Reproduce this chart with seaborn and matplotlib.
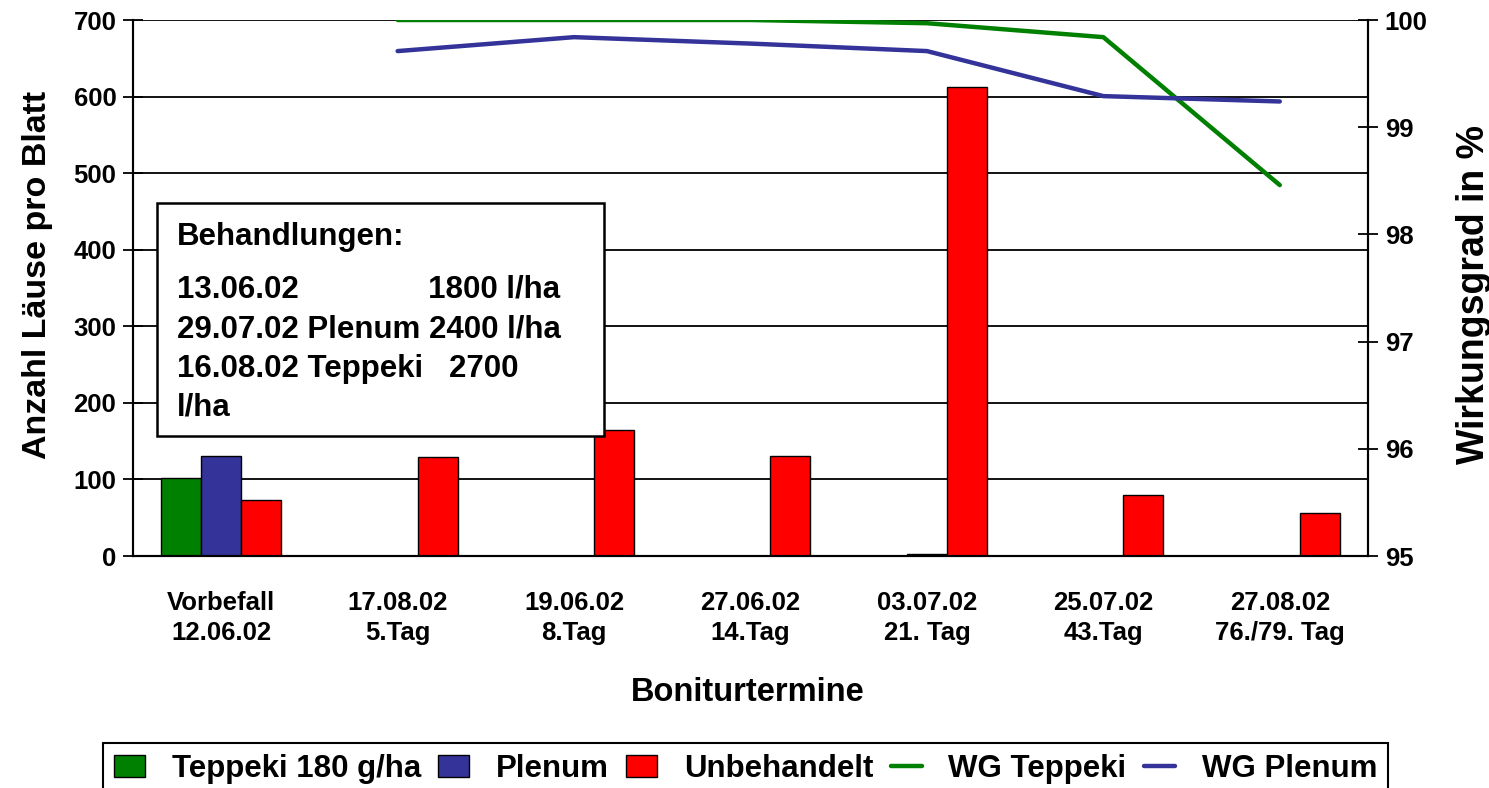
import seaborn as sns
import pandas as pd
import matplotlib.pyplot as plt
from matplotlib.patches import Rectangle

# Daten
termine = ['Vorbefall\n12.06.02', '17.08.02\n5.Tag', '19.06.02\n8.Tag',
           '27.06.02\n14.Tag', '03.07.02\n21. Tag', '25.07.02\n43.Tag',
           '27.08.02\n76./79. Tag']
teppeki = [102, 0, 0, 0, 0, 0, 0]
plenum = [131, 0, 0, 0, 2, 0, 0]
unbehandelt = [73, 129, 165, 131, 613, 80, 56]

# Wirkungsgrad ab dem 2. Termin
wg_termine = termine[1:]
wg_teppeki = [100.0, 100.0, 100.0, 99.97, 99.84, 98.46]
wg_plenum = [99.71, 99.84, 99.78, 99.71, 99.29, 99.24]

box_titel = 'Behandlungen:'
box_zeilen = ['13.06.02               1800 l/ha',
              '29.07.02 Plenum 2400 l/ha',
              '16.08.02 Teppeki   2700',
              'l/ha']

bar_namen = ['Teppeki 180 g/ha', 'Plenum', 'Unbehandelt']
line_namen = ['WG Teppeki', 'WG Plenum']
farben = {'Teppeki 180 g/ha': '#008000', 'Plenum': '#333399', 'Unbehandelt': '#FF0000',
          'WG Teppeki': '#008000', 'WG Plenum': '#333399'}

sns.set_style('white')
plt.rcParams['font.family'] = ['Liberation Sans', 'DejaVu Sans']
plt.rcParams['font.weight'] = 'bold'
plt.rcParams['text.color'] = 'black'
plt.rcParams['axes.labelcolor'] = 'black'
plt.rcParams['xtick.color'] = 'black'
plt.rcParams['ytick.color'] = 'black'

# Tabellen fuer seaborn
df_bars = pd.DataFrame({
    'Termin': termine * 3,
    'Serie': [bar_namen[0]] * 7 + [bar_namen[1]] * 7 + [bar_namen[2]] * 7,
    'Wert': teppeki + plenum + unbehandelt,
})
df_lines = pd.DataFrame({
    'pos': [termine.index(t) for t in wg_termine] * 2,
    'Serie': [line_namen[0]] * 6 + [line_namen[1]] * 6,
    'WG': wg_teppeki + wg_plenum,
})

fig = plt.figure(figsize=(14.89, 7.88), dpi=100)
ax = fig.add_axes([133 / 1489, 1 - 556 / 788, 1235 / 1489, 536 / 788])

sns.barplot(data=df_bars, x='Termin', y='Wert', hue='Serie', order=termine,
            hue_order=bar_namen, palette=farben, width=0.68, saturation=1,
            edgecolor='black', linewidth=1.0, ax=ax)

ax.set_ylim(0, 700)
ax.set_xlim(-0.5, 6.5)
ax.set_yticks(range(0, 701, 100))
ax.yaxis.grid(True, color='black', linewidth=1.3)
ax.set_axisbelow(True)

# Kategorien: Striche an den Grenzen, Beschriftung in der Mitte
ax.set_xticks([i - 0.5 for i in range(8)])
ax.set_xticklabels([])
ax.set_xticks(range(7), minor=True)
ax.set_xticklabels(termine, minor=True, fontsize=18.5, fontweight='bold', linespacing=1.35)
ax.tick_params(axis='x', which='major', direction='inout', length=14, width=1.3, color='black')
ax.tick_params(axis='x', which='minor', length=0, pad=25)
ax.tick_params(axis='y', direction='inout', length=14, width=1.3, color='black',
               labelsize=18.5, pad=5)
for lab in ax.get_yticklabels():
    lab.set_fontweight('bold')

for s in ['left', 'bottom', 'right']:
    ax.spines[s].set_color('black')
    ax.spines[s].set_linewidth(1.5)
ax.spines['top'].set_visible(False)

ax.set_xlabel('Boniturtermine', fontsize=23.5, fontweight='bold')
ax.xaxis.set_label_coords(0.498, -0.225)
ax.set_ylabel('Anzahl Läuse pro Blatt', fontsize=24.5, fontweight='bold')
ax.yaxis.set_label_coords(-0.065, 0.525)

# zweite Achse fuer Wirkungsgrad
ax2 = ax.twinx()
sns.lineplot(data=df_lines, x='pos', y='WG', hue='Serie', hue_order=line_namen,
             palette=farben, linewidth=3.2, ax=ax2)
ax2.set_ylim(95, 100)
ax2.set_yticks(range(95, 101))
ax2.set_xlim(-0.5, 6.5)
ax2.tick_params(axis='y', direction='inout', length=14, width=1.3, color='black',
                labelsize=18.5, pad=5)
for lab in ax2.get_yticklabels():
    lab.set_fontweight('bold')
for s in ['left', 'bottom', 'right']:
    ax2.spines[s].set_color('black')
    ax2.spines[s].set_linewidth(1.5)
ax2.spines['top'].set_visible(False)
ax2.set_ylabel('Wirkungsgrad in %', fontsize=27, fontweight='bold')
ax2.yaxis.set_label_coords(1.071, 0.488)

# Textfeld mit Behandlungen
ax.add_patch(Rectangle((0.0194, 0.2239), 0.362, 0.4347, transform=ax.transAxes,
                       facecolor='white', edgecolor='black', linewidth=1.8, zorder=5))
ax.text(0.0356, 0.595, box_titel, transform=ax.transAxes, fontsize=22.5,
        fontweight='bold', va='center', ha='left', zorder=6)
for i, zeile in enumerate(box_zeilen):
    y = (556 - (290 + i * 39.3)) / 536
    ax.text(0.0356, y, zeile, transform=ax.transAxes, fontsize=22.5,
            fontweight='bold', va='center', ha='left', zorder=6)

# gemeinsame Legende unten
h1, l1 = ax.get_legend_handles_labels()
h2, l2 = ax2.get_legend_handles_labels()
ax.get_legend().remove()
ax2.get_legend().remove()
leg = fig.legend(h1 + h2, l1 + l2, loc='upper left', ncol=5,
                 bbox_to_anchor=(103 / 1489, 1 - 743 / 788),
                 prop={'size': 22.5, 'weight': 'bold'},
                 frameon=True, fancybox=False, edgecolor='black', framealpha=1,
                 handlelength=1.0, handleheight=0.7, handletextpad=0.85,
                 columnspacing=0.55, borderpad=0.35, borderaxespad=0)
leg.get_frame().set_linewidth(1.5)

fig.savefig('out.png', dpi=100)
